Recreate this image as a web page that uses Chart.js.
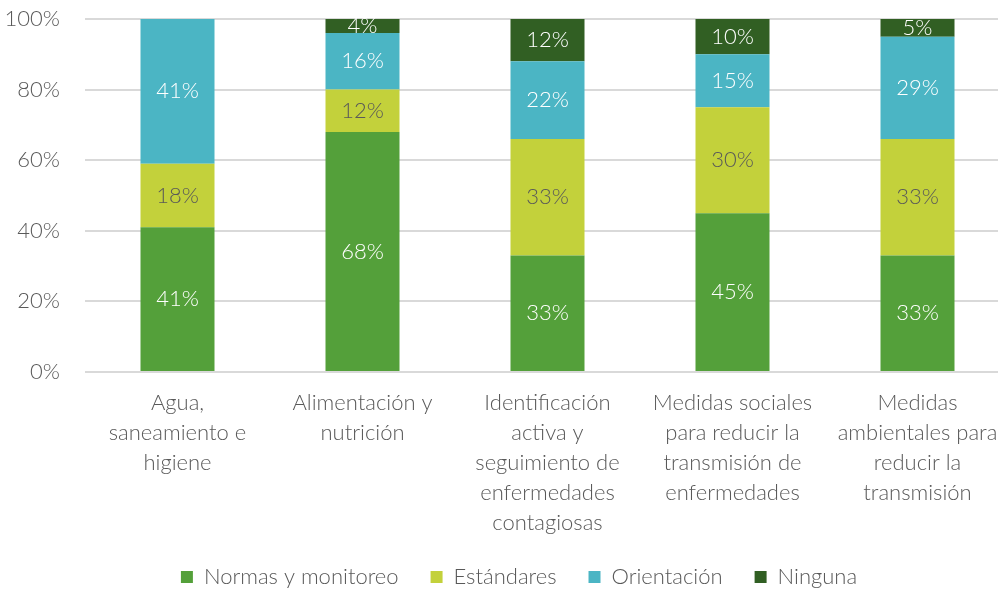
<!DOCTYPE html>
<html>
<head>
<meta charset="utf-8">
<script src="https://cdn.jsdelivr.net/npm/chart.js@4"></script>
<style>
  html, body { margin: 0; padding: 0; background: #fff; overflow: hidden; }
  #wrap { width: 1012px; height: 593px; position: relative; }
</style>
</head>
<body>
<div id="wrap"><canvas id="chart"></canvas></div>
<script>
// categories and series (percentages)
const categories = [
    ['Agua,', 'saneamiento e', 'higiene'],
    ['Alimentación y', 'nutrición'],
    ['Identificación', 'activa y', 'seguimiento de', 'enfermedades', 'contagiosas'],
    ['Medidas sociales', 'para reducir la', 'transmisión de', 'enfermedades'],
    ['Medidas', 'ambientales para', 'reducir la', 'transmisión']
];
const normas = [41, 68, 33, 45, 33];
const estandares = [18, 12, 33, 30, 33];
const orientacion = [41, 16, 22, 15, 29];
const ninguna = [0, 4, 12, 10, 5];
const seriesNames = ['Normas y monitoreo', 'Estándares', 'Orientación', 'Ninguna'];

const FONT = "Lato, 'Source Sans Pro', 'Noto Sans', sans-serif";
const GREY = '#595959';
const FS = 22;

// draw the value in the middle of each segment
const segmentLabels = {
    id: 'segmentLabels',
    afterLayout(chart) {
        // the original chart is wider than the picture, its legend sits a bit right
        chart.legend.left += 14;
        chart.legend.right += 14;
    },
    afterDatasetsDraw(chart) {
        const ctx = chart.ctx;
        ctx.save();
        ctx.font = '300 ' + FS + 'px ' + FONT;
        ctx.textAlign = 'center';
        ctx.textBaseline = 'middle';
        chart.data.datasets.forEach((ds, i) => {
            const meta = chart.getDatasetMeta(i);
            meta.data.forEach((bar, j) => {
                const v = ds.data[j];
                if (!v) return;
                ctx.fillStyle = ds.labelColor;
                ctx.fillText(v + '%', bar.x, (bar.y + bar.base) / 2);
            });
        });
        ctx.restore();
    }
};

new Chart(document.getElementById('chart'), {
    type: 'bar',
    data: {
        labels: categories,
        datasets: [
            { label: seriesNames[0], data: normas, backgroundColor: '#54A03A', labelColor: '#ffffff' },
            { label: seriesNames[1], data: estandares, backgroundColor: '#C3D13B', labelColor: GREY },
            { label: seriesNames[2], data: orientacion, backgroundColor: '#4BB5C4', labelColor: '#ffffff' },
            { label: seriesNames[3], data: ninguna, backgroundColor: '#315F23', labelColor: '#ffffff' }
        ]
    },
    options: {
        responsive: true,
        maintainAspectRatio: false,
        animation: false,
        layout: { padding: { top: 19, right: 2, bottom: -5, left: 0 } },
        datasets: { bar: { barPercentage: 0.4, categoryPercentage: 1 } },
        plugins: {
            legend: {
                position: 'bottom',
                labels: {
                    boxWidth: 12, boxHeight: 12, padding: 32,
                    color: GREY,
                    font: { family: FONT, size: FS, weight: 300 }
                }
            },
            tooltip: { enabled: false }
        },
        scales: {
            x: {
                stacked: true,
                afterFit: s => { s.height -= 12; },
                grid: { display: false },
                border: { display: false },
                ticks: {
                    color: GREY, autoSkip: false, maxRotation: 0, padding: 8,
                    font: { family: FONT, size: FS, weight: 300, lineHeight: 30 / FS }
                }
            },
            y: {
                stacked: true,
                min: 0, max: 100,
                afterFit: s => { s.width = 85; s.paddingTop = 0; s.paddingBottom = 0; },
                grid: { color: '#D9D9D9', lineWidth: 2, drawTicks: false },
                border: { display: false },
                ticks: {
                    stepSize: 20, padding: 25, color: GREY,
                    font: { family: FONT, size: FS, weight: 300 },
                    callback: v => v + '%'
                }
            }
        }
    },
    plugins: [segmentLabels]
});
</script>
</body>
</html>
